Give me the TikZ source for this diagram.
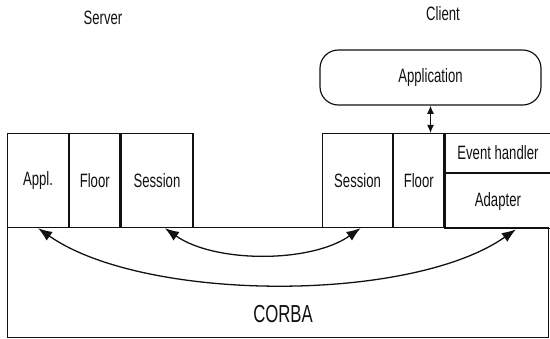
\documentclass[tikz,border=0pt]{standalone}
\usepackage{fontspec}
\setmainfont[FakeStretch=0.68]{Liberation Sans}
\usepackage{xcolor}
\usepackage{tikz}
\usetikzlibrary{positioning,arrows.meta,calc}
\definecolor{InkDark}{HTML}{111111}

\begin{document}
\begin{tikzpicture}[x=0.03cm,y=-0.03cm,
          every node/.style={font=\fontsize{16.5}{18}\selectfont,text=InkDark},
          blk/.style={draw=InkDark,line width=1pt,inner sep=0pt,anchor=north west,
            minimum height=2.82cm},
          ar/.style={{Latex[length=12pt,width=9pt]}-{Latex[length=12pt,width=9pt]},
            InkDark,line width=1.1pt},
          arsm/.style={{Latex[length=7pt,width=6pt]}-{Latex[length=7pt,width=6pt]},
            InkDark,line width=1.1pt}]
        \useasboundingbox (0,0) rectangle (550,339);
        % headings
        \node (srv) at (103,18) {Server};
        \node (cli) at (443,14) {Client};
        % CORBA layer
        \node[blk,minimum width=16.23cm,minimum height=3.3cm] (corba) at (7,227) {};
        \node[font=\fontsize{21}{23}\selectfont] (corbatxt) at (283,314) {CORBA};
        % server side
        \node[blk,minimum width=1.83cm] (sappl) at (7,133) {Appl.};
        \node[blk,minimum width=1.5cm]  (sfloor) at (sappl.north east) {Floor};
        \node[blk,minimum width=2.16cm] (ssess) at (sfloor.north east) {Session};
        % client side
        \node[blk,minimum width=2.1cm]  (csess) at (322,133) {Session};
        \node[blk,minimum width=1.5cm]  (cfloor) at (csess.north east) {Floor};
        \node[blk,minimum width=3.18cm,minimum height=1.17cm] (evh) at (cfloor.north east) {Event handler};
        \node[blk,minimum width=3.18cm,minimum height=1.65cm] (adpt) at (evh.south west) {Adapter};
        \node[draw=InkDark,line width=1pt,rounded corners=0.55cm,
          minimum width=6.63cm,minimum height=1.65cm] (app) at (430.5,77.5) {Application};
        % connectors
        \draw[arsm] (app.south) -- (app.south |- cfloor.north);
        \draw[ar] ([xshift=0.24cm]ssess.south) to[out=-35,in=-145,looseness=0.8] ([xshift=0.09cm]csess.south);
        \draw[ar] (sappl.south) to[out=-35,in=-145,looseness=0.69] ([xshift=0.54cm]adpt.south);
      \end{tikzpicture}
\end{document}
